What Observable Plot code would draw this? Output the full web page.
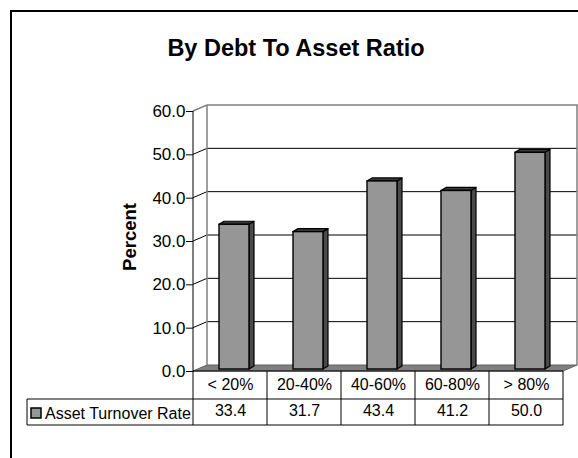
<!DOCTYPE html>
<html>
<head>
<meta charset="utf-8">
<script src="https://cdn.jsdelivr.net/npm/d3@7"></script>
<script src="https://cdn.jsdelivr.net/npm/@observablehq/plot@0.6"></script>
<style>
  html, body { margin: 0; padding: 0; background: #fff; }
  svg { display: block; }
</style>
</head>
<body>
<div id="chart"></div>
<script>
const title = "By Debt To Asset Ratio";
const yLabel = "Percent";
const seriesName = "Asset Turnover Rate";
const categories = ["< 20%", "20-40%", "40-60%", "60-80%", "> 80%"];
const values = [33.4, 31.7, 43.4, 41.2, 50.0];
const yTicks = [0, 10, 20, 30, 40, 50, 60];

const data = categories.map((c, i) => ({cat: c, value: values[i]}));

const FONT = "'Liberation Sans', Arial, sans-serif";
const DX = 14, DY = -6;        // wall depth
const BDX = 5, BDY = -3;       // bar depth

function scene(index, scales, vals, dims) {
  const x = scales.x, y = scales.y;
  const xL = dims.marginLeft, xR = dims.width - dims.marginRight;
  const y0 = y(0), yT = y(yTicks[yTicks.length - 1]);
  const row1 = y0 + 28, row2 = y0 + 54;
  const g = d3.create("svg:g");

  // outer frame (top and left)
  g.append("path").attr("d", `M11,458V11H578`).attr("fill", "none").attr("stroke", "#000").attr("stroke-width", 2);

  // floor
  g.append("path")
    .attr("d", `M${xL},${y0}L${xR},${y0}L${xR + DX},${y0 + DY}L${xL + DX},${y0 + DY}Z`)
    .attr("fill", "#808080").attr("stroke", "#606060").attr("stroke-width", 1);

  // gridlines (with left wall connector)
  for (const v of yTicks.slice(1, -1)) {
    g.append("path")
      .attr("d", `M${xL},${y(v)}L${xL + DX},${y(v) + DY}H${xR + DX}`)
      .attr("fill", "none").attr("stroke", "#000").attr("stroke-width", 1);
  }
  // wall borders (gray)
  g.append("path")
    .attr("d", `M${xL},${yT}L${xL + DX},${yT + DY}H${xR + DX}V${y0 + DY}M${xL + DX},${yT + DY}V${y0 + DY}`)
    .attr("fill", "none").attr("stroke", "#808080").attr("stroke-width", 1.5);

  // bars
  data.forEach(d => {
    const b = x(d.cat);
    const fx0 = b + 26, fx1 = b + 56;
    const ft = y(d.value) - 2, fb = y0 - 2;
    g.append("path")
      .attr("d", `M${fx1},${fb}L${fx1 + BDX},${fb + BDY}L${fx1 + BDX},${ft + BDY}L${fx1},${ft}Z`)
      .attr("fill", "#4a4a4a").attr("stroke", "#000").attr("stroke-width", 1.2).attr("stroke-linejoin", "round");
    g.append("path")
      .attr("d", `M${fx0},${ft}L${fx0 + BDX},${ft + BDY}L${fx1 + BDX},${ft + BDY}L${fx1},${ft}Z`)
      .attr("fill", "#3a3a3a").attr("stroke", "#000").attr("stroke-width", 1.2).attr("stroke-linejoin", "round");
    g.append("rect")
      .attr("x", fx0).attr("y", ft).attr("width", fx1 - fx0).attr("height", fb - ft)
      .attr("fill", "#969696").attr("stroke", "#000").attr("stroke-width", 1.4);
  });

  // front axis line and table
  const tl = "#000";
  g.append("path").attr("d", `M${xL},${yT}V${row2}`).attr("stroke", tl).attr("stroke-width", 1);
  g.append("path").attr("d", `M${xL},${y0}H${xR}V${row2}`).attr("fill", "none").attr("stroke", tl).attr("stroke-width", 1);
  g.append("path").attr("d", `M27,${row1}H${xR}M27,${row2}H${xR}M27,${row1}V${row2}`).attr("fill", "none").attr("stroke", tl).attr("stroke-width", 1);
  categories.slice(1).forEach(c => {
    g.append("path").attr("d", `M${x(c)},${y0}V${row2}`).attr("stroke", tl).attr("stroke-width", 1);
  });
  // legend key
  g.append("rect").attr("x", 31).attr("y", row1 + 9).attr("width", 10).attr("height", 10)
    .attr("fill", "#969696").attr("stroke", "#000").attr("stroke-width", 1.5);
  g.append("text").attr("x", 45).attr("y", row1 + 19.5).attr("font-size", 16).attr("font-family", FONT)
    .attr("text-anchor", "start").attr("fill", "#000").text(seriesName);

  // title
  g.append("text").attr("x", 296).attr("y", 56).attr("text-anchor", "middle")
    .attr("font-size", 23.5).attr("font-weight", "bold").attr("font-family", FONT).text(title);
  // y label
  g.append("text").attr("transform", `translate(136,237) rotate(-90)`).attr("text-anchor", "middle")
    .attr("font-size", 18.5).attr("font-weight", "bold").attr("font-family", FONT).text(yLabel);

  return g.node();
}

const plot = Plot.plot({
  width: 578,
  height: 458,
  marginTop: 111,
  marginBottom: 87,
  marginLeft: 193,
  marginRight: 15,
  style: {fontFamily: FONT, fontSize: "16px", color: "#000", background: "#fff"},
  x: {type: "band", domain: categories, padding: 0, axis: null},
  y: {domain: [0, 60], axis: null},
  marks: [
    scene,
    Plot.axisY({ticks: yTicks, tickFormat: d => d.toFixed(1), tickSize: 7, tickPadding: 1, fontSize: 17, stroke: "#000", strokeOpacity: 1}),
    Plot.text(data, {x: "cat", frameAnchor: "bottom", dy: 18, text: "cat", fontSize: 16, fill: "#000"}),
    Plot.text(data, {x: "cat", frameAnchor: "bottom", dy: 44, text: d => d.value.toFixed(1), fontSize: 16, fill: "#000"})
  ]
});
document.getElementById("chart").appendChild(plot);
</script>
</body>
</html>
